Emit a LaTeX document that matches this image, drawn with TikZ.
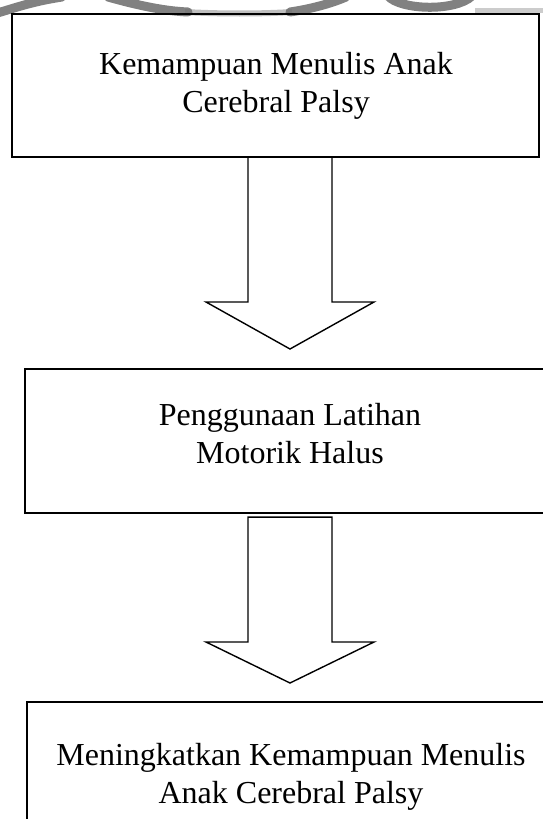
\documentclass[tikz,border=0pt]{standalone}
\usepackage{fontspec}
\setmainfont{Liberation Serif}
\begin{document}
\begin{tikzpicture}[x=1pt,y=-1pt,
  boxframe/.style={draw=black,line width=2.2pt,fill=none},
  blockarrow/.style={draw=black,line width=1.4pt,line join=miter,fill=white},
  lbl/.style={inner sep=0pt,anchor=base,font=\fontsize{32}{38}\selectfont},
  wmark/.style={draw=black!55,line width=9pt,line cap=round,opacity=0.9}]
\useasboundingbox (0,0) rectangle (543,819);
\begin{scope}
\clip (0,0) rectangle (543,819);
% watermark fragments at the top
\draw[wmark] (-6,14) .. controls (15,8) and (30,2) .. (62,-3);
\draw[draw=black!25,line width=6pt] (185,12) .. controls (220,14) and (260,14) .. (292,12);
\draw[wmark] (108,-3) .. controls (140,6) and (165,11) .. (188,12);
\draw[wmark] (290,12) .. controls (310,9) and (330,4) .. (346,-3);
\draw[wmark] (388,-4) .. controls (400,10) and (455,12) .. (472,-4);
\draw[draw=black!20,line width=5pt] (475,10) -- (543,10);
% boxes
\node[boxframe,minimum width=527pt,minimum height=143pt,inner sep=0pt] (b1) at (275.5,85.5) {};
\node[boxframe,minimum width=530pt,minimum height=144pt,inner sep=0pt] (b2) at (290,441) {};
\node[boxframe,minimum width=530pt,minimum height=160pt,inner sep=0pt] (b3) at (292,782) {};
% block arrows
\coordinate (a1) at (290,0 |- b1.south);
\draw[blockarrow] ([xshift=-42pt]a1) -- (248,302) -- (206,302) -- (290,349) -- (374,302) -- (332,302) -- ([xshift=42pt]a1);
\coordinate (a2) at ([yshift=-3pt]290,0 |- b2.south);
\draw[blockarrow] ([xshift=-42pt]a2) -- (248,642) -- (206,642) -- (290,683) -- (374,642) -- (332,642) -- ([xshift=42pt]a2) -- cycle;
\end{scope}
% texts
\node[lbl] (t1a) at (276,74) {Kemampuan Menulis Anak};
\node[lbl] (t1b) at (276,112) {Cerebral Palsy};
\node[lbl] (t2a) at (290,425) {Penggunaan Latihan};
\node[lbl] (t2b) at (290,463) {Motorik Halus};
\node[lbl] (t3a) at (291,765) {Meningkatkan Kemampuan Menulis};
\node[lbl] (t3b) at (291,803) {Anak Cerebral Palsy};
\end{tikzpicture}
\end{document}
